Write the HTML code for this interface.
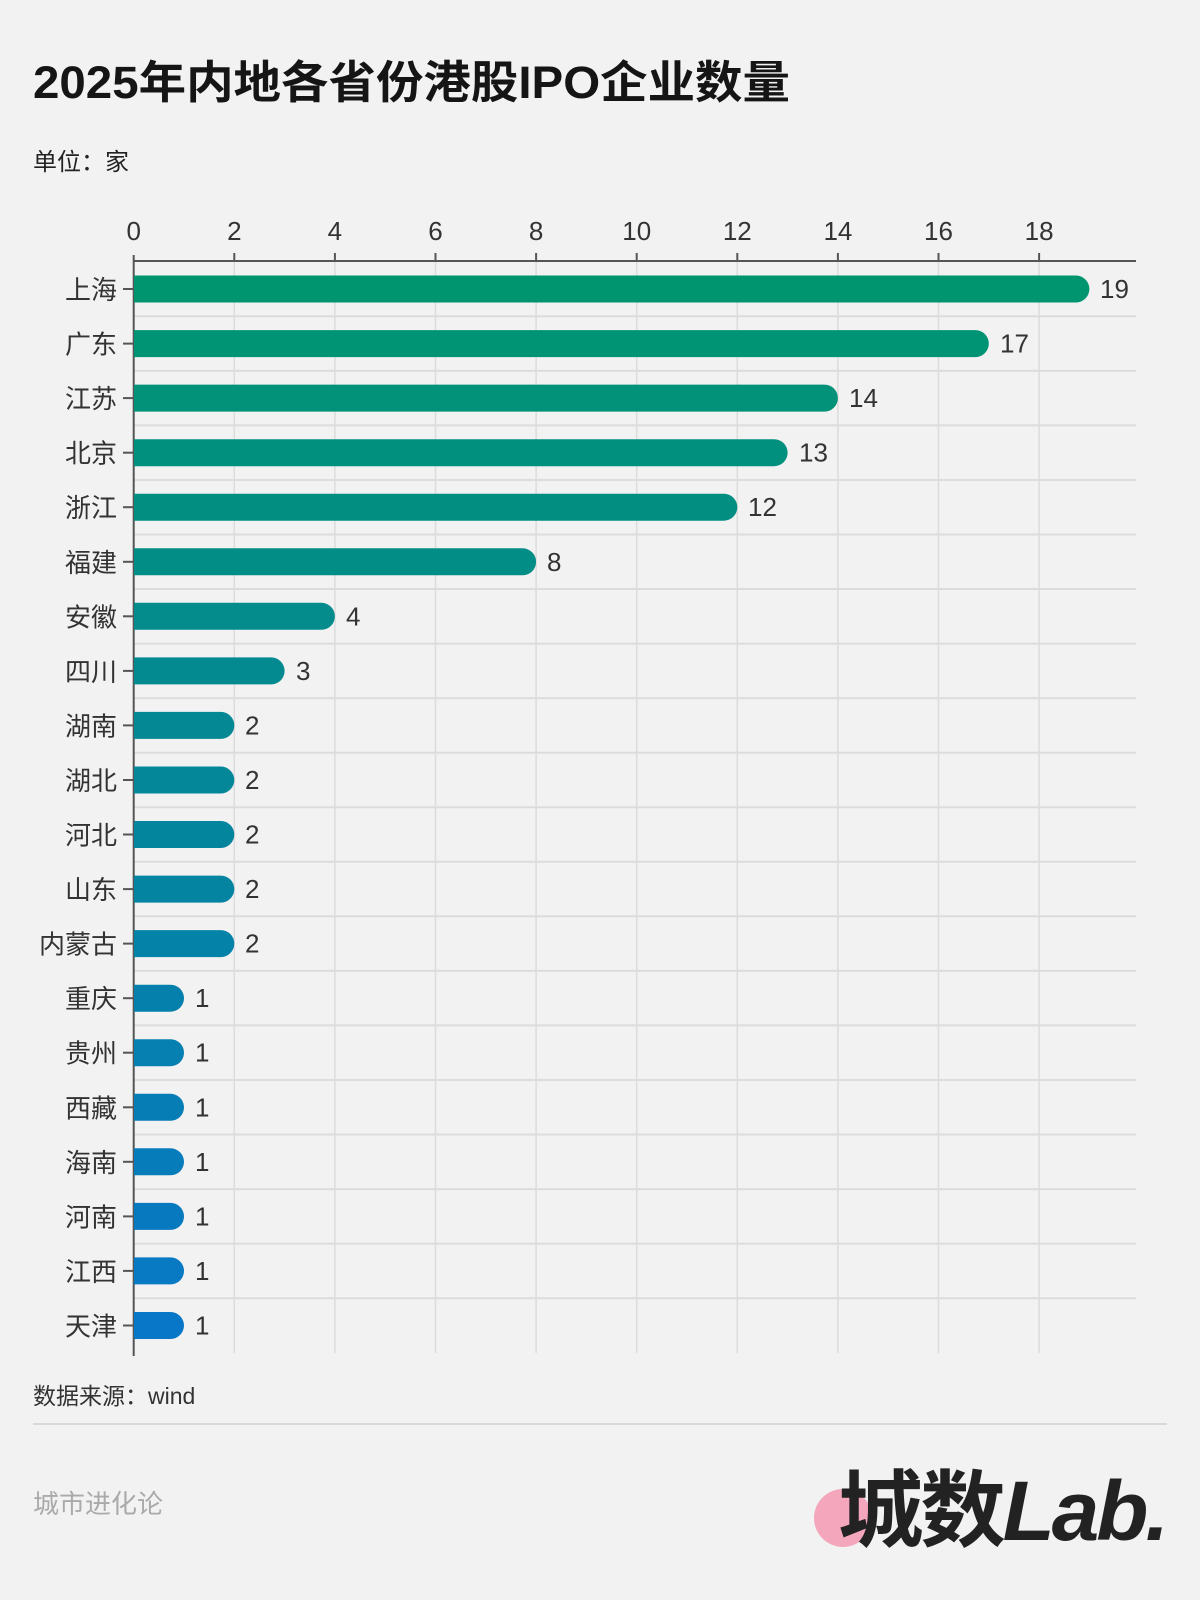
<!DOCTYPE html>
<html><head><meta charset="utf-8"><style>
html,body{margin:0;padding:0;background:#f2f2f2;}
svg{display:block;font-family:"Liberation Sans","Noto Sans CJK SC",sans-serif;}
.v{font-size:26px;fill:#333;}
.l{font-size:26px;fill:#333;text-anchor:end;}
.tk{stroke:#555;stroke-width:2;}
.hg{stroke:#dcdcdc;stroke-width:2;}
</style></head><body>
<svg width="1200" height="1600" viewBox="0 0 1200 1600" xmlns="http://www.w3.org/2000/svg">
<rect width="1200" height="1600" fill="#f2f2f2"/>
<text x="33" y="98" font-size="45" font-weight="bold" fill="#151515" textLength="757" lengthAdjust="spacingAndGlyphs">2025年内地各省份港股IPO企业数量</text>
<text x="33" y="170" font-size="24" fill="#222">单位：家</text>
<g stroke="#dcdcdc" stroke-width="1.5">
<line x1="234.3" y1="261" x2="234.3" y2="1353"/><line x1="334.9" y1="261" x2="334.9" y2="1353"/>
<line x1="435.5" y1="261" x2="435.5" y2="1353"/><line x1="536.1" y1="261" x2="536.1" y2="1353"/>
<line x1="636.7" y1="261" x2="636.7" y2="1353"/><line x1="737.3" y1="261" x2="737.3" y2="1353"/>
<line x1="837.9" y1="261" x2="837.9" y2="1353"/><line x1="938.5" y1="261" x2="938.5" y2="1353"/>
<line x1="1039.1" y1="261" x2="1039.1" y2="1353"/>
</g>
<g class="hg">
<line x1="134" x2="1136" y1="316.3" y2="316.3"/><line x1="134" x2="1136" y1="370.9" y2="370.9"/>
<line x1="134" x2="1136" y1="425.4" y2="425.4"/><line x1="134" x2="1136" y1="480" y2="480"/>
<line x1="134" x2="1136" y1="534.5" y2="534.5"/><line x1="134" x2="1136" y1="589" y2="589"/>
<line x1="134" x2="1136" y1="643.6" y2="643.6"/><line x1="134" x2="1136" y1="698.1" y2="698.1"/>
<line x1="134" x2="1136" y1="752.7" y2="752.7"/><line x1="134" x2="1136" y1="807.2" y2="807.2"/>
<line x1="134" x2="1136" y1="861.8" y2="861.8"/><line x1="134" x2="1136" y1="916.3" y2="916.3"/>
<line x1="134" x2="1136" y1="970.9" y2="970.9"/><line x1="134" x2="1136" y1="1025.4" y2="1025.4"/>
<line x1="134" x2="1136" y1="1080" y2="1080"/><line x1="134" x2="1136" y1="1134.5" y2="1134.5"/>
<line x1="134" x2="1136" y1="1189.1" y2="1189.1"/><line x1="134" x2="1136" y1="1243.6" y2="1243.6"/>
<line x1="134" x2="1136" y1="1298.2" y2="1298.2"/>
</g>
<line x1="133.7" y1="261" x2="1136" y2="261" stroke="#555" stroke-width="2"/>
<line x1="133.7" y1="255" x2="133.7" y2="1356" stroke="#555" stroke-width="2"/>
<g font-size="26" fill="#333" text-anchor="middle">
<text x="133.7" y="240">0</text><text x="234.3" y="240">2</text><text x="334.9" y="240">4</text>
<text x="435.5" y="240">6</text><text x="536.1" y="240">8</text><text x="636.7" y="240">10</text>
<text x="737.3" y="240">12</text><text x="837.9" y="240">14</text><text x="938.5" y="240">16</text>
<text x="1039.1" y="240">18</text>
</g>
<g class="tk">
<line x1="234.3" x2="234.3" y1="253" y2="261"/><line x1="334.9" x2="334.9" y1="253" y2="261"/>
<line x1="435.5" x2="435.5" y1="253" y2="261"/><line x1="536.1" x2="536.1" y1="253" y2="261"/>
<line x1="636.7" x2="636.7" y1="253" y2="261"/><line x1="737.3" x2="737.3" y1="253" y2="261"/>
<line x1="837.9" x2="837.9" y1="253" y2="261"/><line x1="938.5" x2="938.5" y1="253" y2="261"/>
<line x1="1039.1" x2="1039.1" y1="253" y2="261"/>
</g>

<g transform="translate(0,289)"><path d="M134,-13.5H1075.9A13.5,13.5 0 0 1 1075.9,13.5H134Z" fill="rgb(0,149,111)"/><text class="v" x="1100" y="9">19</text><text class="l" x="117" y="10">上海</text><line class="tk" x1="123" x2="133" y1="0" y2="0"/></g>
<g transform="translate(0,343.6)"><path d="M134,-13.5H975.3A13.5,13.5 0 0 1 975.3,13.5H134Z" fill="rgb(0,147,116)"/><text class="v" x="1000" y="9">17</text><text class="l" x="117" y="10">广东</text><line class="tk" x1="123" x2="133" y1="0" y2="0"/></g>
<g transform="translate(0,398.1)"><path d="M134,-13.5H824.4A13.5,13.5 0 0 1 824.4,13.5H134Z" fill="rgb(1,146,121)"/><text class="v" x="849" y="9">14</text><text class="l" x="117" y="10">江苏</text><line class="tk" x1="123" x2="133" y1="0" y2="0"/></g>
<g transform="translate(0,452.7)"><path d="M134,-13.5H774.1A13.5,13.5 0 0 1 774.1,13.5H134Z" fill="rgb(1,144,126)"/><text class="v" x="799" y="9">13</text><text class="l" x="117" y="10">北京</text><line class="tk" x1="123" x2="133" y1="0" y2="0"/></g>
<g transform="translate(0,507.2)"><path d="M134,-13.5H723.8A13.5,13.5 0 0 1 723.8,13.5H134Z" fill="rgb(2,143,130)"/><text class="v" x="748" y="9">12</text><text class="l" x="117" y="10">浙江</text><line class="tk" x1="123" x2="133" y1="0" y2="0"/></g>
<g transform="translate(0,561.8)"><path d="M134,-13.5H522.6A13.5,13.5 0 0 1 522.6,13.5H134Z" fill="rgb(2,141,134)"/><text class="v" x="547" y="9">8</text><text class="l" x="117" y="10">福建</text><line class="tk" x1="123" x2="133" y1="0" y2="0"/></g>
<g transform="translate(0,616.3)"><path d="M134,-13.5H321.4A13.5,13.5 0 0 1 321.4,13.5H134Z" fill="rgb(3,140,139)"/><text class="v" x="346" y="9">4</text><text class="l" x="117" y="10">安徽</text><line class="tk" x1="123" x2="133" y1="0" y2="0"/></g>
<g transform="translate(0,670.9)"><path d="M134,-13.5H271.1A13.5,13.5 0 0 1 271.1,13.5H134Z" fill="rgb(3,138,144)"/><text class="v" x="296" y="9">3</text><text class="l" x="117" y="10">四川</text><line class="tk" x1="123" x2="133" y1="0" y2="0"/></g>
<g transform="translate(0,725.4)"><path d="M134,-13.5H220.8A13.5,13.5 0 0 1 220.8,13.5H134Z" fill="rgb(3,136,148)"/><text class="v" x="245" y="9">2</text><text class="l" x="117" y="10">湖南</text><line class="tk" x1="123" x2="133" y1="0" y2="0"/></g>
<g transform="translate(0,780)"><path d="M134,-13.5H220.8A13.5,13.5 0 0 1 220.8,13.5H134Z" fill="rgb(4,135,153)"/><text class="v" x="245" y="9">2</text><text class="l" x="117" y="10">湖北</text><line class="tk" x1="123" x2="133" y1="0" y2="0"/></g>
<g transform="translate(0,834.5)"><path d="M134,-13.5H220.8A13.5,13.5 0 0 1 220.8,13.5H134Z" fill="rgb(4,133,158)"/><text class="v" x="245" y="9">2</text><text class="l" x="117" y="10">河北</text><line class="tk" x1="123" x2="133" y1="0" y2="0"/></g>
<g transform="translate(0,889.1)"><path d="M134,-13.5H220.8A13.5,13.5 0 0 1 220.8,13.5H134Z" fill="rgb(5,132,162)"/><text class="v" x="245" y="9">2</text><text class="l" x="117" y="10">山东</text><line class="tk" x1="123" x2="133" y1="0" y2="0"/></g>
<g transform="translate(0,943.6)"><path d="M134,-13.5H220.8A13.5,13.5 0 0 1 220.8,13.5H134Z" fill="rgb(5,130,167)"/><text class="v" x="245" y="9">2</text><text class="l" x="117" y="10">内蒙古</text><line class="tk" x1="123" x2="133" y1="0" y2="0"/></g>
<g transform="translate(0,998.2)"><path d="M134,-13.5H170.5A13.5,13.5 0 0 1 170.5,13.5H134Z" fill="rgb(5,128,172)"/><text class="v" x="195" y="9">1</text><text class="l" x="117" y="10">重庆</text><line class="tk" x1="123" x2="133" y1="0" y2="0"/></g>
<g transform="translate(0,1052.7)"><path d="M134,-13.5H170.5A13.5,13.5 0 0 1 170.5,13.5H134Z" fill="rgb(6,127,177)"/><text class="v" x="195" y="9">1</text><text class="l" x="117" y="10">贵州</text><line class="tk" x1="123" x2="133" y1="0" y2="0"/></g>
<g transform="translate(0,1107.3)"><path d="M134,-13.5H170.5A13.5,13.5 0 0 1 170.5,13.5H134Z" fill="rgb(6,125,181)"/><text class="v" x="195" y="9">1</text><text class="l" x="117" y="10">西藏</text><line class="tk" x1="123" x2="133" y1="0" y2="0"/></g>
<g transform="translate(0,1161.8)"><path d="M134,-13.5H170.5A13.5,13.5 0 0 1 170.5,13.5H134Z" fill="rgb(7,124,186)"/><text class="v" x="195" y="9">1</text><text class="l" x="117" y="10">海南</text><line class="tk" x1="123" x2="133" y1="0" y2="0"/></g>
<g transform="translate(0,1216.4)"><path d="M134,-13.5H170.5A13.5,13.5 0 0 1 170.5,13.5H134Z" fill="rgb(7,122,191)"/><text class="v" x="195" y="9">1</text><text class="l" x="117" y="10">河南</text><line class="tk" x1="123" x2="133" y1="0" y2="0"/></g>
<g transform="translate(0,1270.9)"><path d="M134,-13.5H170.5A13.5,13.5 0 0 1 170.5,13.5H134Z" fill="rgb(8,121,195)"/><text class="v" x="195" y="9">1</text><text class="l" x="117" y="10">江西</text><line class="tk" x1="123" x2="133" y1="0" y2="0"/></g>
<g transform="translate(0,1325.5)"><path d="M134,-13.5H170.5A13.5,13.5 0 0 1 170.5,13.5H134Z" fill="rgb(8,119,200)"/><text class="v" x="195" y="9">1</text><text class="l" x="117" y="10">天津</text><line class="tk" x1="123" x2="133" y1="0" y2="0"/></g>

<text x="33" y="1404" font-size="23" fill="#333">数据来源：wind</text>
<line x1="33" y1="1424" x2="1167" y2="1424" stroke="#d8d8d8" stroke-width="2"/>
<text x="33" y="1513" font-size="26" fill="#aaa">城市进化论</text>
<circle cx="843" cy="1518" r="29" fill="#f4a6bc"/>
<text x="838" y="1540" font-size="84" font-weight="bold" fill="#222" letter-spacing="-3" textLength="328" lengthAdjust="spacingAndGlyphs">城数<tspan font-style="italic">Lab.</tspan></text>
</svg>
</body></html>
